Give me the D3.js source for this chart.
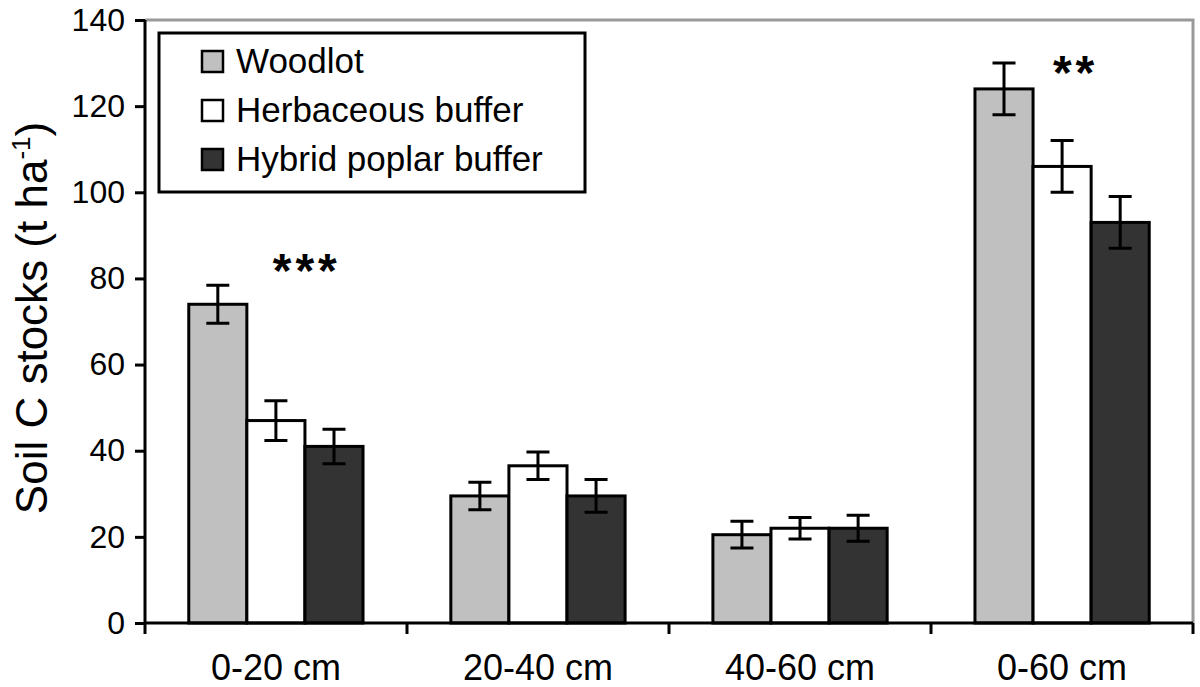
<!DOCTYPE html>
<html>
<head>
<meta charset="utf-8">
<script src="https://cdn.jsdelivr.net/npm/d3@7"></script>
<style>
  body { margin: 0; background: #fff; }
  text { font-family: "Liberation Sans", Arial, sans-serif; }
</style>
</head>
<body>
<svg id="chart" width="1200" height="687"></svg>
<script>
// depth classes and treatments
var depths = ["0-20 cm", "20-40 cm", "40-60 cm", "0-60 cm"];
var treatments = ["Woodlot", "Herbaceous buffer", "Hybrid poplar buffer"];
var fills = ["#c0c0c0", "#ffffff", "#333333"];

// mean soil C stocks, per treatment, in depth order
var woodlot = [74, 29.5, 20.5, 124];
var herbaceous = [47, 36.5, 22, 106];
var poplar = [41, 29.5, 22, 93];

// standard errors
var woodlotErr = [4.4, 3.2, 3.1, 6];
var herbaceousErr = [4.6, 3.2, 2.5, 6];
var poplarErr = [4, 3.8, 3, 6];

// significance marks and the level they sit at
var stars = ["***", "", "", "**"];
var starLevel = [83.6, 0, 0, 129.6];
var yTicks = [0, 20, 40, 60, 80, 100, 120, 140];

var values = [woodlot, herbaceous, poplar];
var errors = [woodlotErr, herbaceousErr, poplarErr];

var svg = d3.select("#chart"),
    margin = {top: 20, right: 7, bottom: 64, left: 145},
    width = +svg.attr("width") - margin.left - margin.right,
    height = +svg.attr("height") - margin.top - margin.bottom,
    g = svg.append("g").attr("transform", "translate(" + margin.left + "," + margin.top + ")");

var x0 = d3.scaleBand().domain(depths).range([0, width]).paddingInner(0.335).paddingOuter(0.167);
var x1 = d3.scaleBand().domain(d3.range(treatments.length)).range([0, x0.bandwidth()]);
var y = d3.scaleLinear().domain([0, 140]).range([height, 0]);

// gray frame on top and right
g.append("path")
    .attr("d", "M0,0H" + width + "V" + height)
    .attr("fill", "none")
    .attr("stroke", "#999")
    .attr("stroke-width", 3);

// bars
var rows = [];
depths.forEach(function(d, i) {
    treatments.forEach(function(t, j) {
        rows.push({depth: d, k: j, v: values[j][i], e: errors[j][i]});
    });
});

g.selectAll("rect.bar")
    .data(rows)
  .enter().append("rect")
    .attr("class", "bar")
    .attr("x", function(d) { return x0(d.depth) + x1(d.k); })
    .attr("y", function(d) { return y(d.v); })
    .attr("width", x1.bandwidth())
    .attr("height", function(d) { return y(0) - y(d.v); })
    .attr("fill", function(d) { return fills[d.k]; })
    .attr("stroke", "#000")
    .attr("stroke-width", 3);

// error bars
var eb = g.selectAll("g.err")
    .data(rows)
  .enter().append("g")
    .attr("class", "err")
    .attr("transform", function(d) {
        return "translate(" + (x0(d.depth) + x1(d.k) + x1.bandwidth() / 2) + ",0)";
    });
eb.append("path")
    .attr("d", function(d) {
        var t = y(d.v + d.e), b = y(d.v - d.e), c = 11.5;
        return "M0," + t + "V" + b + "M" + (-c) + "," + t + "H" + c + "M" + (-c) + "," + b + "H" + c;
    })
    .attr("stroke", "#000")
    .attr("stroke-width", 3)
    .attr("fill", "none");

// significance stars
var starX = [0.66, 0, 0, 0.56];
g.selectAll("text.star")
    .data(depths)
  .enter().append("text")
    .attr("class", "star")
    .attr("x", function(d, i) { return x0(d) + x0.bandwidth() * starX[i] + 3; })
    .attr("y", function(d, i) { return y(starLevel[i]) + 24; })
    .attr("text-anchor", "middle")
    .attr("font-size", 48)
    .attr("font-weight", "bold")
    .attr("letter-spacing", 4)
    .text(function(d, i) { return stars[i]; });

// y axis
var yAxis = g.append("g")
    .call(d3.axisLeft(y).tickValues(yTicks).tickSize(10).tickPadding(10));
yAxis.selectAll("text").attr("font-size", 32).attr("fill", "#000");
yAxis.selectAll("line, path").attr("stroke", "#000").attr("stroke-width", 3);
yAxis.select(".domain").attr("d", "M0,0V" + height);

// x axis with ticks at category boundaries
var xAxis = g.append("g").attr("transform", "translate(0," + height + ")");
xAxis.append("line").attr("x1", 0).attr("x2", width).attr("stroke", "#000").attr("stroke-width", 3);
var step = width / depths.length;
xAxis.selectAll("line.tick")
    .data(d3.range(depths.length + 1))
  .enter().append("line")
    .attr("class", "tick")
    .attr("x1", function(i) { return i * step; })
    .attr("x2", function(i) { return i * step; })
    .attr("y1", 0).attr("y2", 11)
    .attr("stroke", "#000").attr("stroke-width", 3);
xAxis.selectAll("text")
    .data(depths)
  .enter().append("text")
    .attr("x", function(d) { return x0(d) + x0.bandwidth() / 2; })
    .attr("y", 57)
    .attr("text-anchor", "middle")
    .attr("font-size", 36)
    .text(function(d) { return d; });

// y axis title
var title = svg.append("text")
    .attr("transform", "translate(47,318) rotate(-90)")
    .attr("text-anchor", "middle")
    .attr("font-size", 44);
title.append("tspan").text("Soil C stocks (t ha");
title.append("tspan").attr("dy", -17).attr("font-size", 26).text("-1");
title.append("tspan").attr("dy", 17).text(")");

// legend
var legend = svg.append("g").attr("transform", "translate(159,33)");
legend.append("rect")
    .attr("width", 426).attr("height", 159)
    .attr("fill", "#fff").attr("stroke", "#000").attr("stroke-width", 3);
var item = legend.selectAll("g.item")
    .data(treatments)
  .enter().append("g")
    .attr("class", "item")
    .attr("transform", function(d, i) { return "translate(43," + (28 + i * 49) + ")"; });
item.append("rect")
    .attr("y", -10)
    .attr("width", 21).attr("height", 21)
    .attr("fill", function(d, i) { return fills[i]; })
    .attr("stroke", "#000").attr("stroke-width", 2.5);
item.append("text")
    .attr("x", 34)
    .attr("y", 12)
    .attr("font-size", 35)
    .text(function(d) { return d; });
</script>
</body>
</html>
